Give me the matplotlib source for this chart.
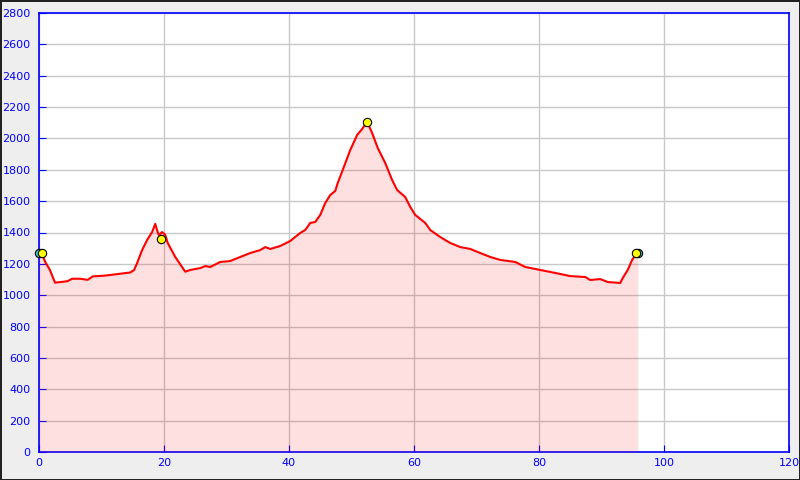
import matplotlib
matplotlib.use("Agg")
import matplotlib.pyplot as plt

# distance (km) and elevation (m)
dist = [0.0, 0.5, 0.96, 1.76, 2.56, 3.7, 4.6, 5.3, 6.6, 7.8, 8.6, 10.6, 12.6, 14.6,
        15.2, 15.7, 16.5, 17.3, 18.1, 18.6, 19.0, 19.2, 19.7, 20.2, 20.6, 21.8, 23.4,
        24.2, 25.8, 26.6, 27.4, 29.0, 30.6, 32.2, 33.8, 35.4, 36.2, 37.0, 38.6, 40.2,
        41.8, 42.6, 43.4, 44.2, 45.0, 45.8, 46.6, 47.4, 47.8, 48.6, 49.8, 50.9, 51.7,
        52.5, 53.3, 54.2, 55.4, 56.5, 57.3, 58.6, 59.4, 60.2, 61.8, 62.6, 64.2, 65.8,
        67.4, 69.0, 70.6, 72.2, 73.8, 76.2, 77.8, 80.2, 82.6, 85.0, 87.4, 88.2, 89.8,
        91.0, 93.0, 93.4, 94.2, 94.9, 95.4, 95.8]
elev = [1270, 1265, 1215, 1160, 1080, 1085, 1090, 1105, 1105, 1098, 1120, 1125, 1135, 1145,
        1160, 1205, 1288, 1352, 1403, 1455, 1400, 1384, 1403, 1385, 1333, 1244, 1150,
        1161, 1173, 1186, 1180, 1212, 1218, 1244, 1269, 1288, 1307, 1295, 1314, 1346,
        1397, 1416, 1461, 1467, 1512, 1588, 1639, 1665, 1716, 1799, 1926, 2022, 2060,
        2105, 2035, 1939, 1843, 1735, 1671, 1626, 1563, 1512, 1461, 1416, 1371, 1333,
        1307, 1295, 1269, 1244, 1225, 1212, 1180, 1161, 1142, 1122, 1116, 1097, 1103,
        1084, 1078, 1110, 1161, 1225, 1256, 1270]

# waypoints
start_end_x = [0.0, 95.9]
start_end_y = [1270, 1270]
way_x = [0.5, 19.5, 52.5, 95.5]
way_y = [1270, 1360, 2105, 1270]

xticks = list(range(0, 121, 20))
yticks = list(range(0, 2801, 200))

fig = plt.figure(figsize=(8, 4.8), dpi=100)
fig.patch.set_facecolor("#eeeeee")
fig.patch.set_edgecolor("#222222")
fig.patch.set_linewidth(1.0)
ax = fig.add_axes([39/800, 28/480, 750/800, 439/480])
ax.set_facecolor("white")

ax.fill_between(dist, elev, 0, color="red", alpha=0.12, linewidth=0, zorder=3)
ax.plot(dist, elev, color="red", linewidth=1.5, zorder=4)
ax.plot(start_end_x, start_end_y, "o", color="#33ccdd", markeredgecolor="black",
        markersize=6, markeredgewidth=0.8, zorder=5, clip_on=False)
ax.plot(way_x, way_y, "o", color="yellow", markeredgecolor="black",
        markersize=6, markeredgewidth=0.8, zorder=6, clip_on=False)

ax.set_xlim(0, 120)
ax.set_ylim(0, 2800)
ax.set_xticks(xticks)
ax.set_yticks(yticks)
ax.grid(True, color="#c8c8c8", linewidth=1)
ax.set_axisbelow(True)
for s in ax.spines.values():
    s.set_color("blue")
    s.set_linewidth(1.2)
ax.tick_params(axis="both", direction="in", length=5, color="blue",
               labelcolor="blue", labelsize=8)
ax.tick_params(axis="y", pad=6)
ax.tick_params(axis="x", pad=4)

fig.savefig("out.png", dpi=100, facecolor=fig.get_facecolor(), edgecolor=fig.get_edgecolor())
